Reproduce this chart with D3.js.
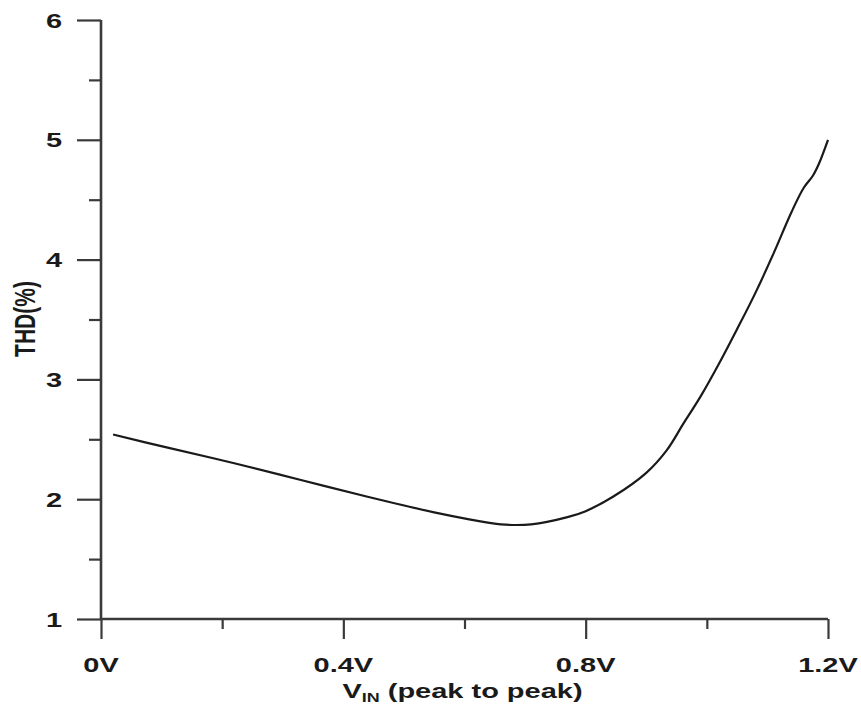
<!DOCTYPE html>
<html>
<head>
<meta charset="utf-8">
<script src="https://cdn.jsdelivr.net/npm/d3@7"></script>
<style>
  html, body { margin: 0; padding: 0; background: #fff; }
  svg { display: block; }
  text { font-family: "Liberation Sans", Arial, sans-serif; font-weight: bold; fill: #1a1a1a; }
</style>
</head>
<body>
<svg id="chart" width="861" height="710"></svg>
<script>
// ---- data ----
const vinValues = [0.02, 0.11, 0.22, 0.33, 0.44, 0.55, 0.61, 0.66, 0.71, 0.77, 0.80, 0.845, 0.90, 0.934, 0.96, 0.99, 1.02, 1.05, 1.08, 1.11, 1.14, 1.16, 1.175, 1.185, 1.2];
const thdValues = [2.54, 2.43, 2.30, 2.16, 2.02, 1.89, 1.83, 1.79, 1.79, 1.85, 1.90, 2.02, 2.22, 2.41, 2.62, 2.86, 3.13, 3.42, 3.72, 4.05, 4.40, 4.60, 4.70, 4.80, 5.0];
const xMajorTicks = [0, 0.4, 0.8, 1.2];
const xMajorLabels = ["0V", "0.4V", "0.8V", "1.2V"];
const xMinorTicks = [0.2, 0.6, 1.0];
const yMajorTicks = [1, 2, 3, 4, 5, 6];
const yMinorTicks = [1.5, 2.5, 3.5, 4.5, 5.5];
const yTitle = "THD(%)";

// ---- layout ----
const svg = d3.select("#chart");
const x = d3.scaleLinear().domain([0, 1.2]).range([101, 828]);
const y = d3.scaleLinear().domain([1, 6]).range([619, 20]);
const SX = 1.38; // horizontal stretch of the lettering
const axisColor = "#3a3a3a";

const yAxisMajor = d3.axisLeft(y).tickValues(yMajorTicks).tickSize(24).tickSizeOuter(0).tickFormat("");
const yAxisMinor = d3.axisLeft(y).tickValues(yMinorTicks).tickSize(12).tickSizeOuter(0).tickFormat("");
const xAxisMajor = d3.axisBottom(x).tickValues(xMajorTicks).tickSize(20).tickSizeOuter(0).tickFormat("");
const xAxisMinor = d3.axisBottom(x).tickValues(xMinorTicks).tickSize(10).tickSizeOuter(0).tickFormat("");

function styleAxis(g) {
  g.select(".domain").remove();
  g.selectAll(".tick line").attr("stroke", axisColor).attr("stroke-width", 2.2);
}

svg.append("g").attr("transform", `translate(${x(0)},0)`).call(yAxisMajor).call(styleAxis);
svg.append("g").attr("transform", `translate(${x(0)},0)`).call(yAxisMinor).call(styleAxis);
svg.append("g").attr("transform", `translate(0,${y(1)})`).call(xAxisMajor).call(styleAxis);
svg.append("g").attr("transform", `translate(0,${y(1)})`).call(xAxisMinor).call(styleAxis);

// axis lines
svg.append("line").attr("x1", x(0)).attr("x2", x(0)).attr("y1", y(6)).attr("y2", y(1))
  .attr("stroke", axisColor).attr("stroke-width", 2.6);
svg.append("line").attr("x1", x(0)).attr("x2", x(1.2)).attr("y1", y(1)).attr("y2", y(1))
  .attr("stroke", axisColor).attr("stroke-width", 2.6);

// y tick labels
svg.append("g").selectAll("text").data(yMajorTicks).join("text")
  .attr("transform", d => `translate(62,${y(d) + 7.5}) scale(${SX},1)`)
  .attr("text-anchor", "end")
  .attr("font-size", 21)
  .text(d => d);

// x tick labels
svg.append("g").selectAll("text").data(xMajorTicks).join("text")
  .attr("transform", d => `translate(${x(d)},672) scale(${SX},1)`)
  .attr("text-anchor", "middle")
  .attr("font-size", 21)
  .text((d, i) => xMajorLabels[i]);

// x title with subscript
const xt = svg.append("text")
  .attr("transform", `translate(${(x(0) + x(1.2)) / 2 - 2},698) scale(${SX},1)`)
  .attr("text-anchor", "middle")
  .attr("font-size", 21);
xt.append("tspan").text("V");
xt.append("tspan").attr("font-size", 13).attr("dy", 4).text("IN");
xt.append("tspan").attr("dy", -4).text(" (peak to peak)");

// y title
svg.append("text")
  .attr("transform", `translate(35,319) scale(${SX},1) rotate(-90)`)
  .attr("text-anchor", "middle")
  .attr("font-size", 21)
  .text(yTitle);

// curve
const pts = vinValues.map((v, i) => [v, thdValues[i]]);
const line = d3.line().x(d => x(d[0])).y(d => y(d[1])).curve(d3.curveCatmullRom.alpha(0.5));
svg.append("path").datum(pts)
  .attr("d", line)
  .attr("fill", "none")
  .attr("stroke", "#1a1a1a")
  .attr("stroke-width", 2.2);
</script>
</body>
</html>
